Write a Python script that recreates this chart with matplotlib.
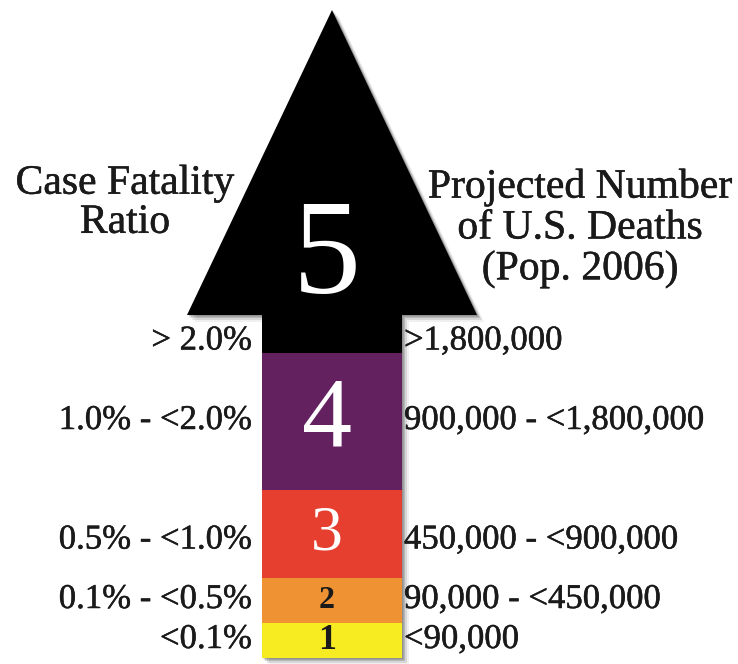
import numpy as np
import matplotlib
matplotlib.use("Agg")
import matplotlib.pyplot as plt
from matplotlib.patches import Polygon
import matplotlib.patheffects as pe

# ---- data ----
levels = ["1", "2", "3", "4", "5"]
cfr_labels = ["<0.1%", "0.1% - <0.5%", "0.5% - <1.0%", "1.0% - <2.0%", "> 2.0%"]
death_labels = ["<90,000", "90,000 - <450,000", "450,000 - <900,000",
                "900,000 - <1,800,000", ">1,800,000"]
seg_heights = [35, 45, 88, 137, 38]          # shaft segment heights (level 1..5)
seg_colors = ["#F7EC22", "#EE9234", "#E63F2F", "#642160", "#000000"]
num_colors = ["#1a1a1a", "#1a1a1a", "white", "white", "white"]
num_sizes = [26, 23, 46, 72, 98]
num_weights = ["bold", "bold", "normal", "normal", "normal"]
label_offsets = [1, 1, -6, 1, -7]
left_title = "Case Fatality\nRatio"
right_title = "Projected Number\nof U.S. Deaths\n(Pop. 2006)"

# ---- geometry ----
W, H = 738, 664
base = 6
shaft_x = 332
shaft_w = 140
head_h = 305
head_half = 145

plt.rcParams["font.family"] = ["Liberation Serif", "DejaVu Serif"]
fig = plt.figure(figsize=(W / 100, H / 100), dpi=100)
ax = fig.add_axes([0, 0, 1, 1])
ax.set_xlim(0, W)
ax.set_ylim(0, H)
ax.axis("off")

bottoms = np.concatenate([[base], base + np.cumsum(seg_heights)[:-1]])
top = base + sum(seg_heights)

# shadow
for k, a in [(7, 0.06), (5, 0.10), (3, 0.15), (1.5, 0.2)]:
    shadow = Polygon([(shaft_x - shaft_w / 2 + k, base - k), (shaft_x + shaft_w / 2 + k, base - k),
                      (shaft_x + shaft_w / 2 + k, top - k), (shaft_x + head_half + k, top - k),
                      (shaft_x + k, top + head_h - k), (shaft_x - head_half + k, top - k),
                      (shaft_x - shaft_w / 2 + k, top - k)],
                     closed=True, facecolor="black", alpha=a, edgecolor="none", zorder=1)
    ax.add_patch(shadow)

ax.bar([shaft_x] * len(levels), seg_heights, bottom=bottoms, width=shaft_w,
       color=seg_colors, edgecolor="none", zorder=2)
head = Polygon([(shaft_x - head_half, top), (shaft_x + head_half, top), (shaft_x, top + head_h)],
               closed=True, facecolor="black", edgecolor="none", zorder=2)
ax.add_patch(head)

bold = [pe.withStroke(linewidth=0.35, foreground="#1a1a1a")]
centers = bottoms + np.array(seg_heights) / 2
for i, lv in enumerate(levels):
    y = centers[i] if i < 4 else top + head_h * 0.18
    ax.text(shaft_x - 5, y, lv, ha="center", va="center", color=num_colors[i],
            fontsize=num_sizes[i], fontweight=num_weights[i], zorder=3)
    ly = centers[i] + label_offsets[i]
    ax.text(shaft_x - shaft_w / 2 - 10, ly, cfr_labels[i], ha="right", va="center",
            fontsize=25, color="#1a1a1a", path_effects=bold)
    ax.text(shaft_x + shaft_w / 2 + 2, ly, death_labels[i], ha="left", va="center",
            fontsize=25, color="#1a1a1a", path_effects=bold)

ax.text(125, 461, left_title, ha="center", va="center", fontsize=30,
        linespacing=1.02, color="#1a1a1a", path_effects=bold)
ax.text(580, 436, right_title, ha="center", va="center", fontsize=30,
        linespacing=1.08, color="#1a1a1a", path_effects=bold)

fig.savefig("out.png", dpi=100)
